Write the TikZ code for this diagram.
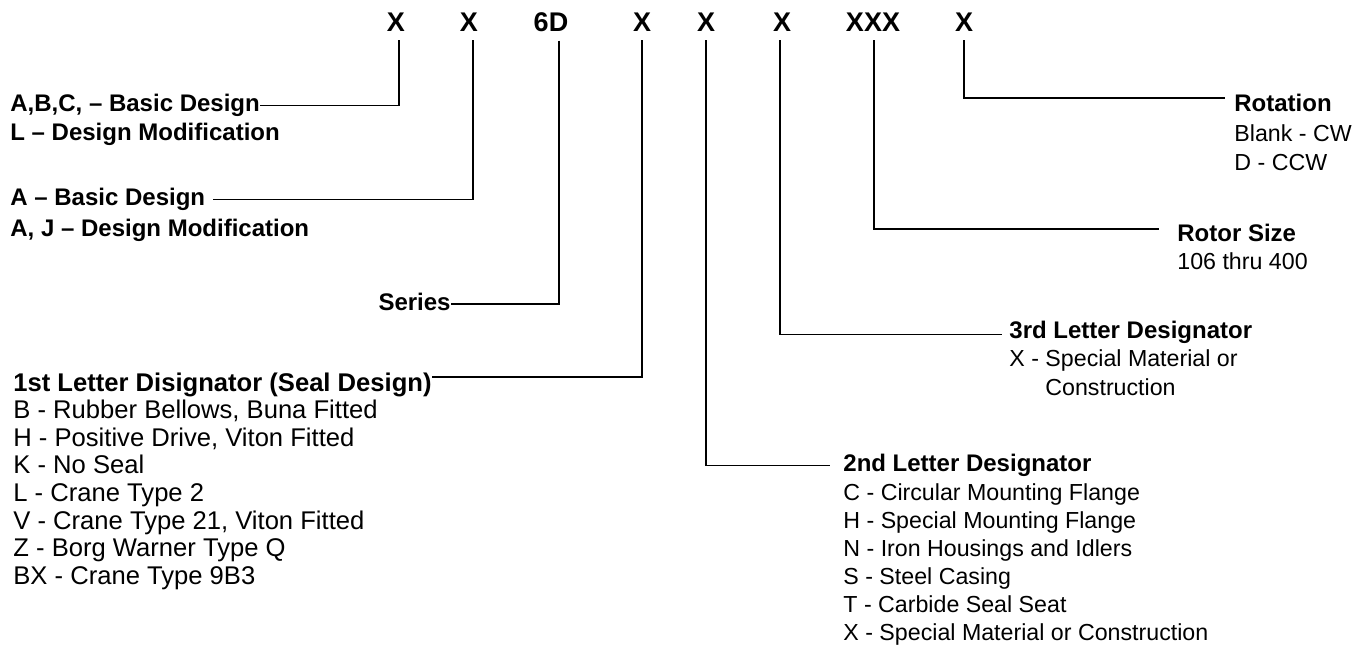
\documentclass[tikz,border=0pt]{standalone}
\usepackage{fontspec}
\setmainfont{Liberation Sans}
\usetikzlibrary{positioning}

\begin{document}
\begin{tikzpicture}[x=0.5pt,y=-0.5pt,
  code/.style={font=\bfseries\fontsize{13.5}{15}\selectfont,inner sep=0pt,anchor=base},
  head/.style={font=\bfseries\fontsize{12}{14}\selectfont,inner sep=0pt,anchor=base west},
  entry/.style={font=\fontsize{11.6}{14}\selectfont,inner sep=0pt,anchor=base west},
  big/.style={font=\fontsize{12.8}{14}\selectfont},
  bighead/.style={font=\bfseries\fontsize{12.8}{14}\selectfont},
  lead/.style={line width=0.7pt,shorten <=4pt}]
\useasboundingbox (0,0) rectangle (1361,646);

% the model code
\node[code] (c1) at (396,32) {X};
\node[code] (c2) at (469,32) {X};
\node[code] (c3) at (551,32) {6D};
\node[code] (c4) at (642,32) {X};
\node[code] (c5) at (706,32) {X};
\node[code] (c6) at (782,32) {X};
\node[code] (c7) at (873,32) {XXX};
\node[code] (c8) at (964,32) {X};

% left side
\node[head] (abc) at (10,111.5) {A,B,C, -- Basic Design};
\node[head] (mod1) at (10,140.5) {L -- Design Modification};
\node[head] (bas) at (10,205.5) {A -- Basic Design};
\node[head] (mod2) at (10,236.5) {A, J -- Design Modification};
\node[head,anchor=base east] (ser) at (451,310.5) {Series};
\node[head,bighead] (seal) at (13,391.5) {1st Letter Disignator (Seal Design)};
\foreach \t [count=\i] in {{B - Rubber Bellows, Buna Fitted},{H - Positive Drive, Viton Fitted},
  {K - No Seal},{L - Crane Type 2},{V - Crane Type 21, Viton Fitted},
  {Z - Borg Warner Type Q},{BX - Crane Type 9B3}} {
  \node[entry,big] (s\i) at (13,{418.5+27.7*(\i-1)}) {\t};
}

% right side
\node[head] (rot) at (1234,111.5) {Rotation};
\node[entry] (rot1) at (1234,141.5) {Blank - CW};
\node[entry] (rot2) at (1234,170.5) {D - CCW};
\node[head] (size) at (1177,241.5) {Rotor Size};
\node[entry] (size1) at (1177,269.5) {106 thru 400};
\node[head] (third) at (1009,338.5) {3rd Letter Designator};
\node[entry] (third1) at (1009,366.5) {X - Special Material or};
\node[entry] (third2) at (1045,395.5) {Construction};
\node[head] (second) at (843,471.5) {2nd Letter Designator};
\foreach \t [count=\i] in {{C - Circular Mounting Flange},{H - Special Mounting Flange},
  {N - Iron Housings and Idlers},{S - Steel Casing},{T - Carbide Seal Seat},
  {X - Special Material or Construction}} {
  \node[entry] (m\i) at (843,{500.5+28*(\i-1)}) {\t};
}

\draw[lead] ([xshift=1.5pt]c1.south) |- (abc.east);
\draw[lead,shorten >=3.5pt] ([xshift=2pt]c2.south) |- (bas.east);
\draw[lead] ([xshift=4pt]c3.south) |- ([yshift=-1pt]ser.east);
\draw[lead] (c4.south) |- ([yshift=4pt]seal.east);
\draw[lead,shorten >=6.5pt] (c5.south) |- (second.west);
\draw[lead,shorten >=3.5pt] ([xshift=-1pt]c6.south) |- ([yshift=-1pt]third.west);
\draw[lead,shorten >=9pt] ([xshift=0.5pt]c7.south) |- ([yshift=2pt]size.west);
\draw[lead,shorten >=4.5pt] (c8.south) |- ([yshift=2.5pt]rot.west);
\end{tikzpicture}
\end{document}
